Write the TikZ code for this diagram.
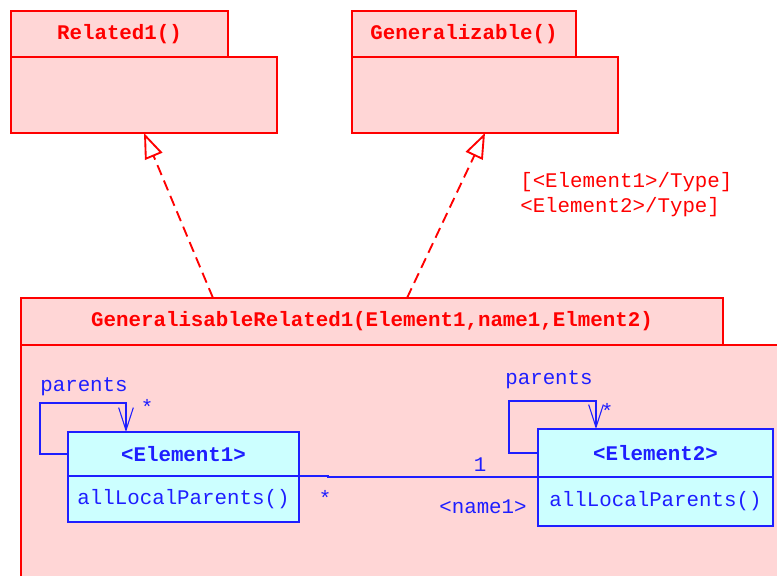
\documentclass[tikz,border=0pt]{standalone}
\usepackage{fontspec}
\setmonofont{Liberation Mono}
\usepackage{tikz}
\usetikzlibrary{arrows.meta,positioning,calc}
\definecolor{pkfill}{RGB}{255,214,214}
\definecolor{clfill}{RGB}{204,255,255}
\definecolor{ublue}{RGB}{30,30,255}
\newcommand{\px}{0.75pt}
\newcommand{\umlfont}{\ttfamily\fontsize{15.6}{18.75}\selectfont}

\begin{document}
\begin{tikzpicture}[x=0.75pt,y=-0.75pt,
  pk/.style={draw=red,fill=pkfill,line width=0.8pt,inner sep=0pt,outer sep=0pt,
    anchor=north west,text=red,font=\umlfont\bfseries},
  cl/.style={draw=ublue,fill=clfill,line width=0.9pt,inner sep=0pt,outer sep=0pt,
    anchor=north west,text=ublue,font=\umlfont},
  gen/.style={red,line width=1.4pt,dash pattern=on 8pt off 4.5pt,
    -{Triangle[open,length=19pt,width=14pt]}},
  lnk/.style={draw=ublue,line width=0.8pt},
  self/.style={lnk,-{Straight Barb[length=17pt,width=11pt]}},
  lbl/.style={text=ublue,font=\umlfont,inner sep=0pt},
  cond/.style={text=red,font=\umlfont,inner sep=0pt,align=left}
]
\useasboundingbox (0,0) rectangle (777,575);
\clip (0,0) rectangle (777,575);

\node[pk,minimum width=217*\px,minimum height=46*\px] (rtab) at (11,11) {Related1()};
\node[pk,minimum width=266*\px,minimum height=76*\px] (rbody) at (rtab.south west) {};
\node[pk,minimum width=224*\px,minimum height=46*\px] (gtab) at (352,11) {Generalizable()};
\node[pk,minimum width=266*\px,minimum height=76*\px] (gbody) at (gtab.south west) {};

\node[pk,minimum width=760*\px,minimum height=240*\px] (grbody) at (21,345) {};
\node[pk,minimum width=702*\px,minimum height=47*\px] (grtab) at (21,298)
  {GeneralisableRelated1(Element1,name1,Elment2)};

\node[cond,anchor=west] (types) at (520,195) {[<Element1>/Type]\\<Element2>/Type]};

\draw[gen] ($(grtab.north west)+(192,0)$) -- (rbody.south);
\draw[gen] ($(grtab.north west)+(386,0)$) -- (gbody.south);

\node[cl,minimum width=231*\px,minimum height=44*\px,font=\umlfont\bfseries] (e1head) at (68,432) {<Element1>};
\node[cl,minimum width=231*\px,minimum height=46*\px] (e1body) at (e1head.south west) {allLocalParents()};
\node[cl,minimum width=235*\px,minimum height=48*\px,font=\umlfont\bfseries] (e2head) at (538,429) {<Element2>};
\node[cl,minimum width=235*\px,minimum height=49*\px] (e2body) at (e2head.south west) {allLocalParents()};

\draw[self] (e1head.west) -- ++(-28,0) -- ++(0,-51) -| ($(e1head.north west)+(58,0)$);
\draw[self] (e2head.west) -- ++(-29,0) -- ++(0,-52) -| ($(e2head.north west)+(58,0)$);
\draw[lnk] (e1head.south east) -- ++(29,0) |- (e2head.south west);

\node[lbl] (p1) at (84,387) {parents};
\node[lbl] (s1) at (147,407) {*};
\node[lbl] (p2) at (549,380) {parents};
\node[lbl] (s2) at (607,411) {*};
\node[lbl] (m1) at (325,498) {*};
\node[lbl] (m2) at (480,465) {1};
\node[lbl] (rn) at (483,507) {<name1>};
\end{tikzpicture}
\end{document}
